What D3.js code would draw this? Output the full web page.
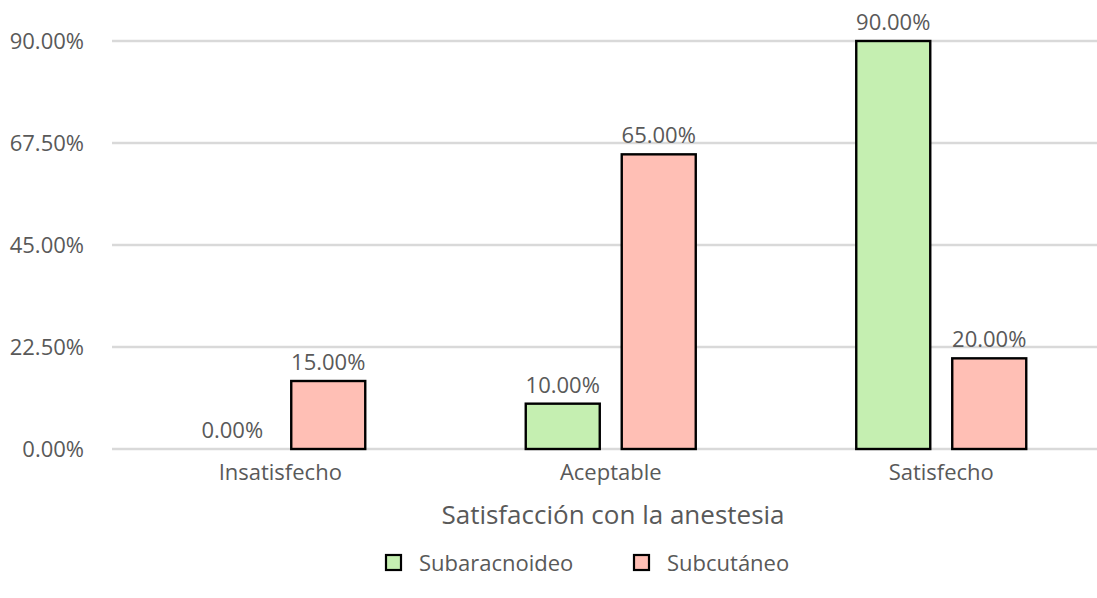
<!DOCTYPE html>
<html>
<head>
<meta charset="utf-8">
<script src="https://cdn.jsdelivr.net/npm/d3@7"></script>
<style>
  html, body { margin: 0; padding: 0; background: #fff; }
  svg { display: block; font-family: "Open Sans", sans-serif; }
</style>
</head>
<body>
<svg id="chart" width="1097" height="598"></svg>
<script>
// Satisfaction categories and percentage per anaesthesia route
const categories = ["Insatisfecho", "Aceptable", "Satisfecho"];
const seriesNames = ["Subaracnoideo", "Subcutáneo"];
const subaracnoideo = [0, 10, 90];
const subcutaneo = [15, 65, 20];
const yTicks = [0, 22.5, 45, 67.5, 90];
const xTitle = "Satisfacción con la anestesia";
const colors = ["#c5efb1", "#ffbfb5"];

const values = [subaracnoideo, subcutaneo];
const rows = categories.map((c, i) => ({
  cat: c,
  vals: seriesNames.map((s, j) => ({ series: s, idx: j, v: values[j][i] }))
}));

const svg = d3.select("#chart");
const textColor = "#595959";
const fs = "22px";

const x0 = d3.scaleBand().domain(categories).range([115, 1106.5]).paddingInner(0).paddingOuter(0);
const x1 = d3.scaleBand().domain(seriesNames).range([0, x0.bandwidth()])
  .paddingInner(0.229).paddingOuter(0.836);
const y = d3.scaleLinear().domain([0, 90]).range([449, 41]);

// horizontal grid lines
svg.append("g").selectAll("line").data(yTicks).join("line")
  .attr("x1", 112).attr("x2", 1097)
  .attr("y1", d => y(d)).attr("y2", d => y(d))
  .attr("stroke", "#d9d9d9").attr("stroke-width", 2.5);

// y axis labels
const fmt = d => d.toFixed(2) + "%";
const yAxis = d3.axisLeft(y).tickValues(yTicks).tickFormat(fmt).tickSize(0).tickPadding(0);
const gy = svg.append("g").attr("transform", "translate(84,0)").call(yAxis);
gy.select(".domain").remove();
gy.selectAll("text").attr("fill", textColor).style("font-size", fs)
  .style("font-family", "'Open Sans', sans-serif");

// x axis labels
const xAxis = d3.axisBottom(x0).tickSize(0).tickPadding(0);
const gx = svg.append("g").attr("transform", "translate(0,464)").call(xAxis);
gx.select(".domain").remove();
gx.selectAll("text").attr("fill", textColor).style("font-size", fs)
  .style("font-family", "'Open Sans', sans-serif");

// bars
const groups = svg.append("g").selectAll("g").data(rows).join("g")
  .attr("transform", d => `translate(${x0(d.cat)},0)`);

groups.selectAll("rect").data(d => d.vals.filter(v => v.v > 0)).join("rect")
  .attr("x", d => x1(d.series))
  .attr("width", x1.bandwidth())
  .attr("y", d => y(d.v))
  .attr("height", d => y(0) - y(d.v))
  .attr("fill", d => colors[d.idx])
  .attr("stroke", "#000").attr("stroke-width", 2.4);

// value labels
groups.selectAll("text").data(d => d.vals).join("text")
  .attr("x", d => x1(d.series) + x1.bandwidth() / 2)
  .attr("y", d => y(d.v) - 11)
  .attr("text-anchor", "middle")
  .attr("fill", textColor).style("font-size", fs)
  .text(d => fmt(d.v));

// axis title
svg.append("text").attr("x", 613).attr("y", 524).attr("text-anchor", "middle")
  .attr("fill", textColor).style("font-size", "26px").text(xTitle);

// legend
const legendX = [386, 634];
const lg = svg.append("g").selectAll("g").data(seriesNames).join("g")
  .attr("transform", (d, i) => `translate(${legendX[i]},555)`);
lg.append("rect").attr("width", 15).attr("height", 15)
  .attr("fill", (d, i) => colors[i]).attr("stroke", "#000").attr("stroke-width", 2.2);
lg.append("text").attr("x", 33).attr("y", 16).attr("fill", textColor)
  .style("font-size", fs).text(d => d);
</script>
</body>
</html>
